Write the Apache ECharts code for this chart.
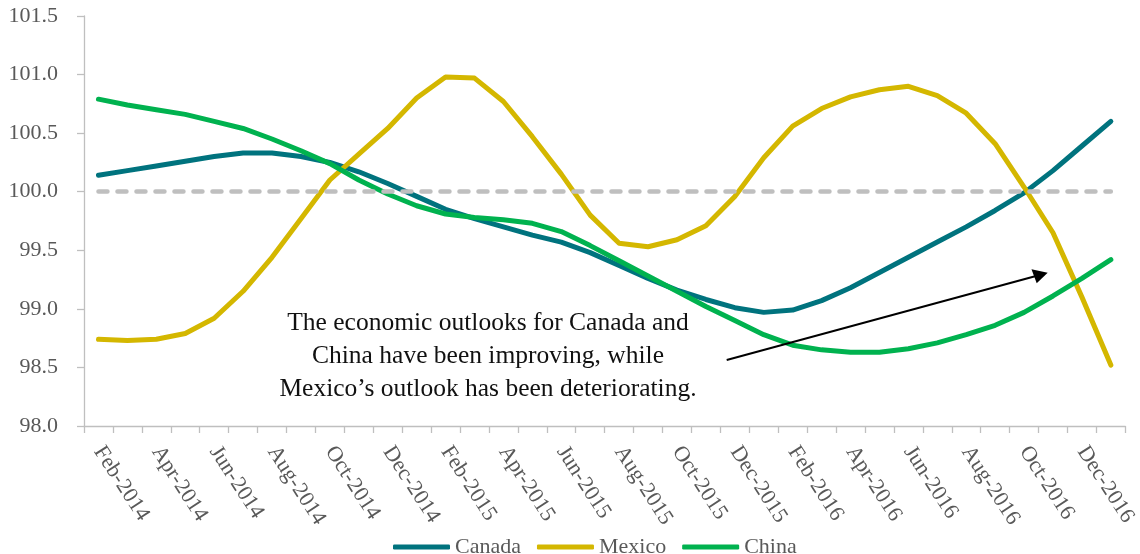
<!DOCTYPE html>
<html>
<head>
<meta charset="utf-8">
<script src="https://cdn.jsdelivr.net/npm/echarts@6/dist/echarts.min.js"></script>
<style>
  html, body { margin: 0; padding: 0; background: #ffffff; }
  #chart { width: 1140px; height: 554px; }
</style>
</head>
<body>
<div id="chart"></div>
<script>
const categories = [
  'Feb-2014','Mar-2014','Apr-2014','May-2014','Jun-2014','Jul-2014','Aug-2014','Sep-2014','Oct-2014','Nov-2014','Dec-2014',
  'Jan-2015','Feb-2015','Mar-2015','Apr-2015','May-2015','Jun-2015','Jul-2015','Aug-2015','Sep-2015','Oct-2015','Nov-2015','Dec-2015',
  'Jan-2016','Feb-2016','Mar-2016','Apr-2016','May-2016','Jun-2016','Jul-2016','Aug-2016','Sep-2016','Oct-2016','Nov-2016','Dec-2016',
  'Jan-2017'
];
const canada = [
  100.14,100.18,100.22,100.26,100.30,100.33,100.33,100.30,100.25,100.17,100.07,
  99.96,99.85,99.77,99.70,99.63,99.57,99.48,99.37,99.26,99.16,99.08,99.01,
  98.97,98.99,99.07,99.18,99.31,99.44,99.57,99.70,99.84,99.99,100.18,100.39,
  100.60
];
const mexico = [
  98.74,98.73,98.74,98.79,98.92,99.15,99.44,99.77,100.10,100.32,100.54,
  100.80,100.98,100.97,100.77,100.47,100.15,99.80,99.56,99.53,99.59,99.71,99.96,
  100.29,100.56,100.71,100.81,100.87,100.90,100.82,100.67,100.41,100.04,99.65,99.10,
  98.52
];
const china = [
  100.79,100.74,100.70,100.66,100.60,100.54,100.45,100.35,100.24,100.10,99.98,
  99.88,99.81,99.78,99.76,99.73,99.66,99.54,99.41,99.28,99.15,99.02,98.90,
  98.78,98.69,98.65,98.63,98.63,98.66,98.71,98.78,98.86,98.97,99.11,99.26,
  99.42
];
const baselineValue = 100;
const seriesNames = ['Canada', 'Mexico', 'China'];
const annotationLines = [
  'The economic outlooks for Canada and',
  'China have been improving, while',
  'Mexico\u2019s outlook has been deteriorating.'
];

const FONT = '"Liberation Serif", "DejaVu Serif", serif';
const colors = ['#00737E', '#D4B700', '#00B24F'];

const chart = echarts.init(document.getElementById('chart'));

function lineSeries(name, data, color, extra) {
  return Object.assign({
    name: name,
    type: 'line',
    data: data,
    symbol: 'none',
    smooth: false,
    lineStyle: { color: color, width: 5, cap: 'round', join: 'round' },
    itemStyle: { color: color },
    emphasis: { disabled: true }
  }, extra || {});
}

const option = {
  animation: false,
  backgroundColor: '#ffffff',
  grid: { left: 84, right: 13, top: 16, bottom: 128 },
  legend: {
    data: seriesNames,
    left: 388,
    top: 531,
    icon: 'roundRect',
    itemWidth: 57,
    itemHeight: 5,
    itemGap: 16,
    textStyle: { fontFamily: FONT, fontSize: 22, color: '#595959' }
  },
  xAxis: {
    type: 'category',
    data: categories,
    boundaryGap: true,
    axisLine: { show: true, lineStyle: { color: '#BFBFBF', width: 1.3 } },
    axisTick: { show: true, interval: 0, length: 7, lineStyle: { color: '#BFBFBF', width: 1.3 } },
    axisLabel: {
      interval: 1,
      rotate: -57,
      margin: 22,
      fontFamily: FONT,
      fontSize: 22,
      color: '#595959'
    },
    splitLine: { show: false }
  },
  yAxis: {
    type: 'value',
    min: 98,
    max: 101.5,
    interval: 0.5,
    axisLine: { show: true, lineStyle: { color: '#BFBFBF', width: 1.3 } },
    axisTick: { show: true, length: 7, lineStyle: { color: '#BFBFBF', width: 1.3 } },
    axisLabel: {
      margin: 26,
      fontFamily: FONT,
      fontSize: 22,
      color: '#595959',
      formatter: function (v) { return v.toFixed(1); }
    },
    splitLine: { show: false }
  },
  series: [
    lineSeries(seriesNames[0], canada, colors[0]),
    lineSeries(seriesNames[1], mexico, colors[1]),
    lineSeries(seriesNames[2], china, colors[2], {
      markLine: {
        silent: true,
        symbol: ['none', 'none'],
        label: { show: false },
        lineStyle: { color: '#BFBFBF', width: 4.5, type: [9, 10], cap: 'round' },
        emphasis: { disabled: true },
        data: [[
          { coord: [categories[0], baselineValue] },
          { coord: [categories[categories.length - 1], baselineValue] }
        ]]
      }
    })
  ],
  graphic: [
    {
      type: 'text',
      x: 488,
      y: 356,
      style: {
        text: annotationLines.join('\n'),
        fontFamily: FONT,
        fontSize: 25.5,
        lineHeight: 33,
        fill: '#111111',
        align: 'center',
        verticalAlign: 'middle'
      },
      z: 100
    },
    {
      type: 'line',
      shape: { x1: 726.7, y1: 360, x2: 1036, y2: 276 },
      style: { stroke: '#000000', lineWidth: 2 },
      z: 100
    },
    {
      type: 'polygon',
      shape: { points: [[1047.7, 272.7], [1031.5, 269.3], [1036.7, 283.3]] },
      style: { fill: '#000000' },
      z: 100
    }
  ]
};

chart.setOption(option);
</script>
</body>
</html>
